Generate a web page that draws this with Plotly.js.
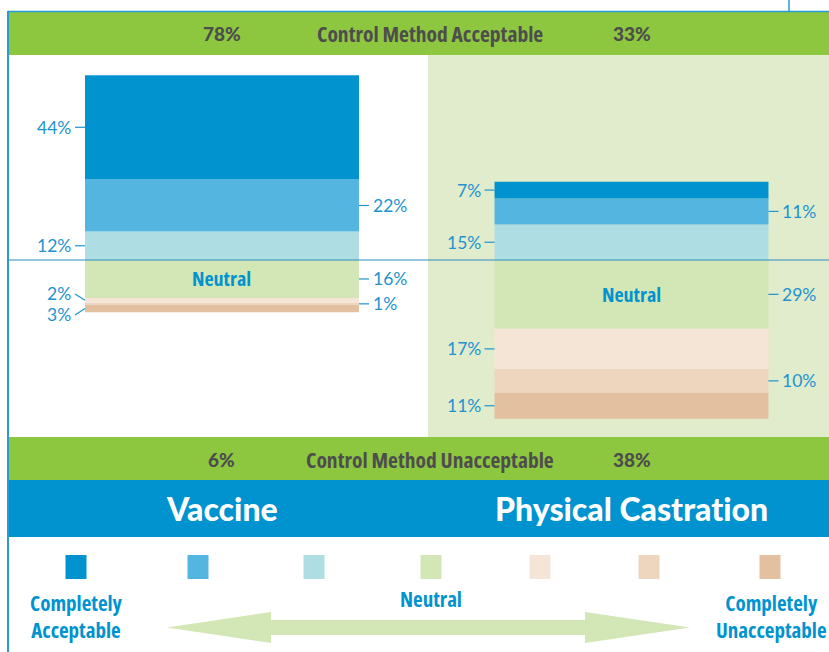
<!DOCTYPE html>
<html><head><meta charset="utf-8">
<script src="https://cdn.plot.ly/plotly-3.0.1.min.js"></script>
<style>html,body{margin:0;padding:0;background:#fff}#chart{width:829px;height:652px}
text[style*="Open Sans"]{font-stretch:75%;}
text{font-variant-ligatures:none;font-feature-settings:"liga" 0,"dlig" 0;}
</style>
</head><body><div id="chart"></div>
<script>
// ---------- DATA ----------
const categories = ["Vaccine", "Physical Castration"];
const responseLevels = ["Completely Acceptable", "Acceptable", "Somewhat Acceptable", "Neutral",
  "Somewhat Unacceptable", "Unacceptable", "Completely Unacceptable"];
const completelyAcceptable = [44, 7];
const acceptable = [22, 11];
const somewhatAcceptable = [12, 15];
const neutral = [16, 29];
const somewhatUnacceptable = [2, 17];
const unacceptable = [1, 10];
const completelyUnacceptable = [3, 11];
const topBandTitle = "Control Method Acceptable";
const bottomBandTitle = "Control Method Unacceptable";
const legendLeftText = "Completely<br>Acceptable";
const legendMidText = "Neutral";
const legendRightText = "Completely<br>Unacceptable";

// ---------- STYLE ----------
const W = 829, H = 652;
const levelColors = ["#0093D0", "#54B6E0", "#AEDEE3", "#D3E6B5", "#F5E5D6", "#EED5BE", "#E3C1A0"];
const labelColor = "#1E93D0";
const condensed = "'Open Sans', sans-serif";
const series = [completelyAcceptable, acceptable, somewhatAcceptable, neutral,
  somewhatUnacceptable, unacceptable, completelyUnacceptable];
const positive = [true, true, true, false, false, false, false];
const barWidth = 0.669;
const pxPerUnit = 2.37;
const px = x => x / W;
const py = y => 1 - y / H;

// traces: stack outward from zero
const traceOrder = [2, 1, 0, 3, 4, 5, 6];
const traces = traceOrder.map(i => ({
  type: 'bar',
  name: responseLevels[i],
  x: categories,
  y: series[i].map(v => positive[i] ? v : -v),
  width: barWidth,
  marker: {color: levelColors[i], line: {width: 0}},
  hoverinfo: 'skip',
  showlegend: false
}));

const shapes = [];
const annotations = [];
function note(o) { annotations.push(Object.assign({showarrow: false, xanchor: 'center', yanchor: 'middle'}, o)); }

// backgrounds
shapes.push({type: 'rect', xref: 'paper', yref: 'paper', x0: px(428), x1: 1, y0: py(437), y1: py(55), fillcolor: '#E0ECCB', line: {width: 0}, layer: 'below'});
shapes.push({type: 'rect', xref: 'paper', yref: 'paper', x0: px(8), x1: 1, y0: py(55), y1: py(12), fillcolor: '#8DC63F', line: {width: 0}, layer: 'below'});
shapes.push({type: 'rect', xref: 'paper', yref: 'paper', x0: px(8), x1: 1, y0: py(480), y1: py(437), fillcolor: '#8DC63F', line: {width: 0}, layer: 'below'});
shapes.push({type: 'rect', xref: 'paper', yref: 'paper', x0: px(8), x1: 1, y0: py(537), y1: py(480), fillcolor: '#0093D0', line: {width: 0}, layer: 'below'});
// frame lines
shapes.push({type: 'line', xref: 'paper', yref: 'paper', x0: px(8), x1: px(8), y0: py(11), y1: 0, line: {color: '#2A9AD4', width: 2}});
shapes.push({type: 'line', xref: 'paper', yref: 'paper', x0: px(8), x1: 1, y0: py(11.5), y1: py(11.5), line: {color: '#2A9AD4', width: 1.5}});
shapes.push({type: 'line', xref: 'paper', yref: 'paper', x0: px(789), x1: px(789), y0: 1, y1: py(11), line: {color: '#2A9AD4', width: 1.5}});
// zero line
shapes.push({type: 'line', xref: 'paper', yref: 'y', x0: px(8), x1: 1, y0: 0, y1: 0, line: {color: '#2A8CC4', width: 1}, layer: 'above'});

// segment labels with leaders
const gap = 21 / pxPerUnit;
categories.forEach((cat, g) => {
  const top = series.slice(0, 3).reduce((s, a) => s + a[g], 0);
  let cum = top;
  const segs = series.map((arr, i) => {
    const hi = cum, lo = cum - arr[g];
    cum = lo;
    return {i, value: arr[g], mid: (hi + lo) / 2};
  });
  note({x: g, y: segs[3].mid, xref: 'x', yref: 'y', text: '<b>Neutral</b>',
    font: {family: condensed, size: 20, color: '#0093D0', weight: 700}});
  ['left', 'right'].forEach((side, sIdx) => {
    const items = segs.filter(s => s.i % 2 === sIdx).map(s => ({...s, y: s.mid}));
    for (let it = 0; it < 10; it++) {
      for (let k = 1; k < items.length; k++) {
        const d = items[k - 1].y - items[k].y;
        if (d < gap) {
          const sh = (gap - d) / 2;
          items[k - 1].y += sh; items[k].y -= sh;
        }
      }
    }
    const edge = side === 'left' ? g - barWidth / 2 : g + barWidth / 2;
    const dir = side === 'left' ? -1 : 1;
    items.forEach(s => {
      shapes.push({type: 'line', xref: 'x', yref: 'y', xsizemode: 'pixel', xanchor: edge,
        x0: dir * 10, x1: 0, y0: s.y, y1: s.mid, line: {color: labelColor, width: 1.2}});
      note({x: edge, y: s.y, xref: 'x', yref: 'y', text: s.value + '%',
        xanchor: side === 'left' ? 'right' : 'left', xshift: dir * 12,
        font: {family: 'Lato, sans-serif', size: 17.5, color: labelColor, weight: 400}});
    });
  });
});

// band texts
const accTotals = categories.map((c, g) => series.slice(0, 3).reduce((s, a) => s + a[g], 0));
const unaccTotals = categories.map((c, g) => series.slice(4).reduce((s, a) => s + a[g], 0));
const bandFontNum = {family: 'Lato, sans-serif', size: 19, color: '#4D4D4D', weight: 900};
const bandFontTitle = {family: condensed, size: 21.5, color: '#4D4D4D', weight: 700};
categories.forEach((c, g) => {
  note({x: g, xref: 'x', yref: 'paper', y: py(33), text: accTotals[g] + '%', font: bandFontNum});
  note({x: g, xref: 'x', yref: 'paper', y: py(459), text: unaccTotals[g] + '%', font: bandFontNum});
  note({x: g, xref: 'x', yref: 'paper', y: py(508), text: c,
    font: {family: 'Lato, sans-serif', size: 32, color: '#FFFFFF', weight: 900}});
});
note({x: px(430), y: py(33), xref: 'paper', yref: 'paper', text: topBandTitle, font: bandFontTitle});
note({x: px(430), y: py(459), xref: 'paper', yref: 'paper', text: bottomBandTitle, font: bandFontTitle});

// legend swatches
const swatchX = [76, 198, 314, 431, 540, 649, 770];
levelColors.forEach((col, i) => {
  shapes.push({type: 'rect', xref: 'paper', yref: 'paper', x0: px(swatchX[i] - 10.5), x1: px(swatchX[i] + 10.5),
    y0: py(579), y1: py(555), fillcolor: col, line: {width: 0}});
});
const legendFont = {family: condensed, size: 21, color: '#0093D0', weight: 700};
note({x: px(76), y: py(616), xref: 'paper', yref: 'paper', text: legendLeftText, font: legendFont});
note({x: px(431), y: py(599), xref: 'paper', yref: 'paper', text: legendMidText, font: legendFont});
note({x: px(771), y: py(616), xref: 'paper', yref: 'paper', text: legendRightText, font: legendFont});

// double arrow
const arrowPts = [[167, 627.5], [271, 612], [271, 620], [585, 620], [585, 612], [690, 627.5], [585, 643], [585, 635], [271, 635], [271, 643]];
shapes.push({type: 'path', xref: 'paper', yref: 'paper',
  path: 'M' + arrowPts.map(p => px(p[0]).toFixed(5) + ',' + py(p[1]).toFixed(5)).join(' L') + ' Z',
  fillcolor: '#D3E6B5', line: {width: 0}});

const layout = {
  width: W, height: H,
  margin: {l: 0, r: 0, t: 0, b: 0, pad: 0},
  paper_bgcolor: '#FFFFFF', plot_bgcolor: 'rgba(0,0,0,0)',
  barmode: 'relative',
  showlegend: false,
  xaxis: {type: 'category', range: [-0.5421, 1.4823], visible: false, fixedrange: true},
  yaxis: {range: [-(H - 260) / pxPerUnit, 260 / pxPerUnit], visible: false, fixedrange: true},
  shapes: shapes,
  annotations: annotations
};
Plotly.newPlot('chart', traces, layout, {displayModeBar: false, staticPlot: true});
</script>
</body></html>
